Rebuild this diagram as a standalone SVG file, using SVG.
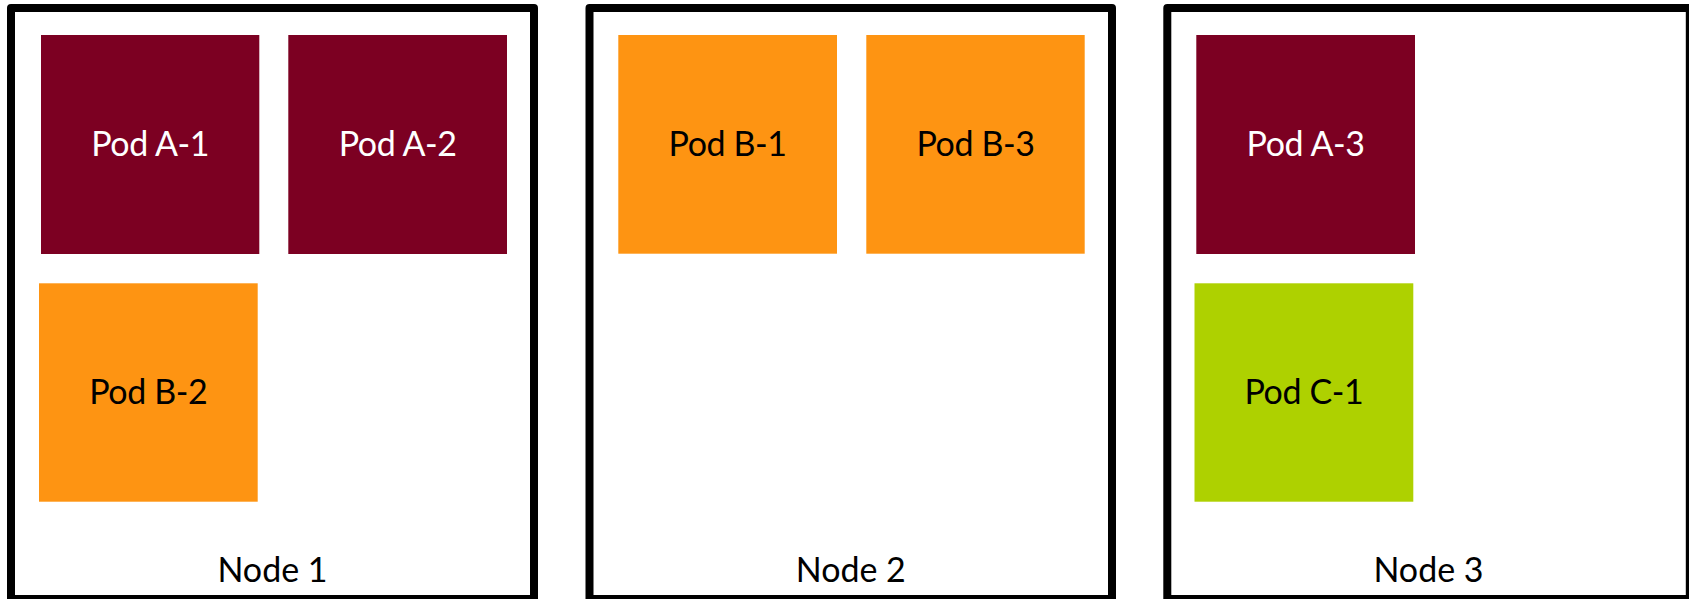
<svg xmlns="http://www.w3.org/2000/svg" width="1689" height="599" viewBox="0 0 1689 599">
  <style>
    .node { fill: #ffffff; stroke: #000000; stroke-width: 8; stroke-linejoin: round; }
    .pod { stroke: none; }
    .pod-a { fill: #7c0022; }
    .pod-b { fill: #fe9412; }
    .pod-c { fill: #aed100; }
    text { font-family: Lato, "Liberation Sans", sans-serif; font-size: 34px; text-anchor: middle; }
    .pod-label { letter-spacing: -0.4px; }
    .light { fill: #ffffff; }
    .dark { fill: #000000; }
  </style>
  <rect width="1689" height="599" fill="#ffffff"/>

  <!-- Node 1 -->
  <g id="node1">
    <rect class="node" x="11" y="8" width="523" height="591"/>
    <text class="dark" x="272.5" y="581.7">Node 1</text>
  </g>
  <!-- Node 2 -->
  <g id="node2">
    <rect class="node" x="589.5" y="8" width="522.5" height="591"/>
    <text class="dark" x="850.8" y="581.7">Node 2</text>
  </g>
  <!-- Node 3 -->
  <g id="node3">
    <rect class="node" x="1167.3" y="8" width="522.5" height="591"/>
    <text class="dark" x="1428.5" y="581.7">Node 3</text>
  </g>

  <!-- Pods on Node 1 -->
  <g id="pod-a1">
    <rect class="pod pod-a" x="41" y="35" width="218.3" height="219"/>
    <text class="light pod-label" x="150.2" y="155.7">Pod A-1</text>
  </g>
  <g id="pod-a2">
    <rect class="pod pod-a" x="288.3" y="35" width="218.7" height="219"/>
    <text class="light pod-label" x="397.7" y="155.7">Pod A-2</text>
  </g>
  <g id="pod-b2">
    <rect class="pod pod-b" x="39" y="283.3" width="218.7" height="218.4"/>
    <text class="dark pod-label" x="148.3" y="404">Pod B-2</text>
  </g>

  <!-- Pods on Node 2 -->
  <g id="pod-b1">
    <rect class="pod pod-b" x="618.3" y="35" width="218.7" height="218.7"/>
    <text class="dark pod-label" x="727.6" y="155.7">Pod B-1</text>
  </g>
  <g id="pod-b3">
    <rect class="pod pod-b" x="866.3" y="35" width="218.4" height="218.7"/>
    <text class="dark pod-label" x="975.5" y="155.7">Pod B-3</text>
  </g>

  <!-- Pods on Node 3 -->
  <g id="pod-a3">
    <rect class="pod pod-a" x="1196.3" y="35" width="218.7" height="219"/>
    <text class="light pod-label" x="1305.6" y="155.7">Pod A-3</text>
  </g>
  <g id="pod-c1">
    <rect class="pod pod-c" x="1194.5" y="283.3" width="218.8" height="218.4"/>
    <text class="dark pod-label" x="1303.9" y="404">Pod C-1</text>
  </g>

  <g id="connectors"/>
</svg>
